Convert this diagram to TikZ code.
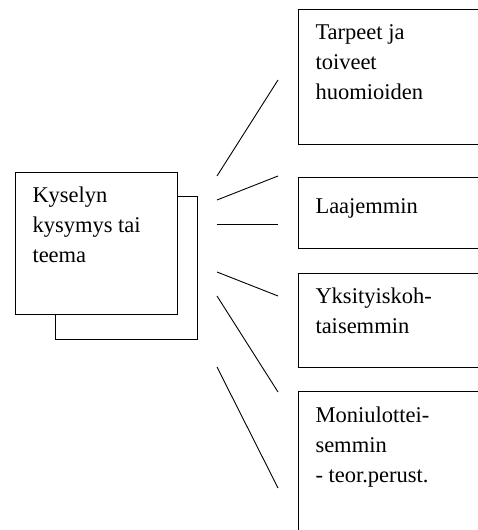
\documentclass[tikz,border=0pt]{standalone}
\usepackage{fontspec}
\setmainfont{Liberation Serif}
\usetikzlibrary{positioning}

\begin{document}
\begin{tikzpicture}[x=1pt,y=1pt,line width=1pt,
                    laatikko/.style={draw,fill=white,inner sep=0pt,anchor=north west},
                    teksti/.style={inner sep=0pt,anchor=north west,align=left,
                                   font=\fontsize{22.5}{30}\selectfont,
                                   execute at begin node=\strut},
                    viiva/.style={line width=0.9pt}]
  \useasboundingbox (0,0) rectangle (478,530);
  \clip (0,0) rectangle (478,530);

  % keskella oleva pino
  \node[laatikko,minimum width=142,minimum height=143] (taka) at (55,334) {};
  \node[laatikko,minimum width=162,minimum height=142] (kysely) at (15,358) {};
  \node[teksti] (kyselyteksti) at ([xshift=17,yshift=-14]kysely.north west)
       {Kyselyn\\kysymys tai\\teema};

  % oikean reunan laatikot
  \node[laatikko,minimum width=220,minimum height=135] (tarpeet) at (298,521) {};
  \node[laatikko,minimum width=220,minimum height=71]  (laaja)   at (298,353) {};
  \node[laatikko,minimum width=220,minimum height=94]  (yksi)    at (298,257) {};
  \node[laatikko,minimum width=220,minimum height=180] (moni)    at (298,139) {};

  \node[teksti] at ([xshift=17,yshift=-15]tarpeet.north west) {Tarpeet ja\\toiveet\\huomioiden};
  \node[teksti] at ([xshift=17,yshift=-15]laaja.north west)   {Laajemmin};
  \node[teksti] at ([xshift=17,yshift=-14]yksi.north west)    {Yksityiskoh-\\taisemmin};
  \node[teksti] at ([xshift=17,yshift=-15]moni.north west)    {Moniulottei-\\semmin\\- teor.perust.};

  % viivat
  \coordinate (a1) at (217,354); \coordinate (b1) at (278,450);
  \coordinate (a2) at (217,330); \coordinate (b2) at (278,354);
  \coordinate (a3) at (217,306); \coordinate (b3) at (278,306);
  \coordinate (a4) at (217,258); \coordinate (b4) at (278,234);
  \coordinate (a5) at (217,234); \coordinate (b5) at (278,138);
  \coordinate (a6) at (217,163); \coordinate (b6) at (278,42);
  \foreach \i in {1,...,6}
    \draw[viiva] (a\i) -- (b\i);

\end{tikzpicture}
\end{document}
